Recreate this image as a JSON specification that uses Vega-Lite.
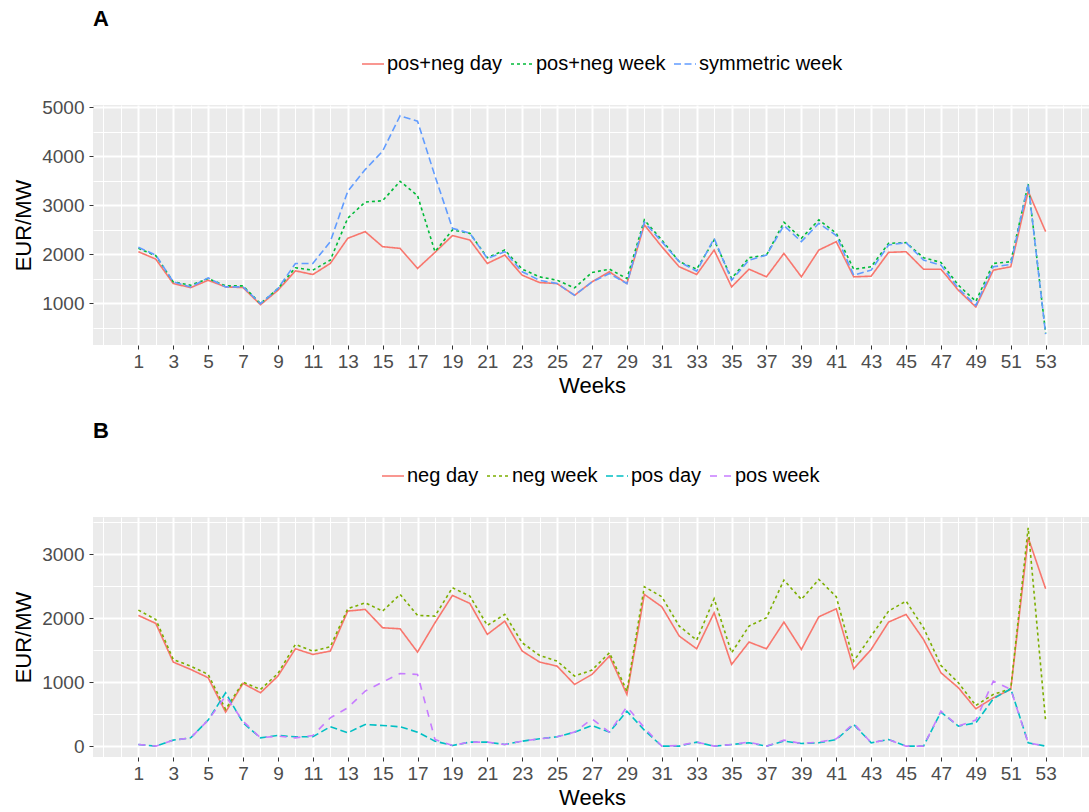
{
  "$schema": "https://vega.github.io/schema/vega-lite/v6.json",
  "padding": {"left": 12, "top": 8, "right": 0, "bottom": 0},
  "background": "white",
  "spacing": 24,
  "config": {
    "font": "Liberation Sans",
    "view": {"fill": "#EBEBEB", "stroke": null},
    "axis": {"domain": false, "tickColor": "#333333", "tickSize": 4, "tickWidth": 1, "labelColor": "#4D4D4D", "labelFontSize": 19, "labelFont": "Liberation Sans", "titleFont": "Liberation Sans", "titleFontSize": 22, "titleFontWeight": "normal", "titleColor": "black", "gridColor": "white", "labelOverlap": false, "labelFlush": false},
    "title": {"anchor": "start", "frame": "group", "fontSize": 22, "fontWeight": "bold", "font": "Liberation Sans", "color": "black", "offset": 21},
    "legend": {"orient": "none", "direction": "horizontal", "title": null, "symbolType": "stroke", "symbolSize": 484, "symbolStrokeWidth": 1.6, "labelFontSize": 20, "labelFont": "Liberation Sans", "labelColor": "black", "labelOffset": 2, "columnPadding": 4}
  },
  "resolve": {"scale": {"x": "independent", "y": "independent", "color": "independent", "strokeDash": "independent"}},
  "datasets": {
    "A": [
      {"week":1,"pos+neg day":2055,"pos+neg week":2123,"symmetric week":2144},
      {"week":2,"pos+neg day":1903,"pos+neg week":1973,"symmetric week":1986},
      {"week":3,"pos+neg day":1404,"pos+neg week":1439,"symmetric week":1439},
      {"week":4,"pos+neg day":1322,"pos+neg week":1370,"symmetric week":1336},
      {"week":5,"pos+neg day":1472,"pos+neg week":1507,"symmetric week":1521},
      {"week":6,"pos+neg day":1336,"pos+neg week":1357,"symmetric week":1336},
      {"week":7,"pos+neg day":1322,"pos+neg week":1357,"symmetric week":1336},
      {"week":8,"pos+neg day":973,"pos+neg week":994,"symmetric week":994},
      {"week":9,"pos+neg day":1267,"pos+neg week":1302,"symmetric week":1302},
      {"week":10,"pos+neg day":1665,"pos+neg week":1727,"symmetric week":1815},
      {"week":11,"pos+neg day":1589,"pos+neg week":1678,"symmetric week":1815},
      {"week":12,"pos+neg day":1815,"pos+neg week":1883,"symmetric week":2260},
      {"week":13,"pos+neg day":2328,"pos+neg week":2739,"symmetric week":3287},
      {"week":14,"pos+neg day":2465,"pos+neg week":3068,"symmetric week":3731},
      {"week":15,"pos+neg day":2157,"pos+neg week":3095,"symmetric week":4108},
      {"week":16,"pos+neg day":2123,"pos+neg week":3493,"symmetric week":4830},
      {"week":17,"pos+neg day":1712,"pos+neg week":3200,"symmetric week":4720},
      {"week":18,"pos+neg day":2041,"pos+neg week":2055,"symmetric week":3600},
      {"week":19,"pos+neg day":2383,"pos+neg week":2499,"symmetric week":2534},
      {"week":20,"pos+neg day":2294,"pos+neg week":2431,"symmetric week":2431},
      {"week":21,"pos+neg day":1815,"pos+neg week":1932,"symmetric week":1918},
      {"week":22,"pos+neg day":1986,"pos+neg week":2088,"symmetric week":2055},
      {"week":23,"pos+neg day":1575,"pos+neg week":1698,"symmetric week":1645},
      {"week":24,"pos+neg day":1425,"pos+neg week":1542,"symmetric week":1472},
      {"week":25,"pos+neg day":1404,"pos+neg week":1472,"symmetric week":1404},
      {"week":26,"pos+neg day":1165,"pos+neg week":1316,"symmetric week":1165},
      {"week":27,"pos+neg day":1439,"pos+neg week":1630,"symmetric week":1439},
      {"week":28,"pos+neg day":1645,"pos+neg week":1698,"symmetric week":1610},
      {"week":29,"pos+neg day":1404,"pos+neg week":1507,"symmetric week":1404},
      {"week":30,"pos+neg day":2602,"pos+neg week":2704,"symmetric week":2657},
      {"week":31,"pos+neg day":2157,"pos+neg week":2294,"symmetric week":2260},
      {"week":32,"pos+neg day":1747,"pos+neg week":1850,"symmetric week":1850},
      {"week":33,"pos+neg day":1589,"pos+neg week":1698,"symmetric week":1657},
      {"week":34,"pos+neg day":2088,"pos+neg week":2294,"symmetric week":2328},
      {"week":35,"pos+neg day":1336,"pos+neg week":1507,"symmetric week":1472},
      {"week":36,"pos+neg day":1698,"pos+neg week":1932,"symmetric week":1883},
      {"week":37,"pos+neg day":1542,"pos+neg week":1986,"symmetric week":1986},
      {"week":38,"pos+neg day":2020,"pos+neg week":2657,"symmetric week":2589},
      {"week":39,"pos+neg day":1542,"pos+neg week":2328,"symmetric week":2260},
      {"week":40,"pos+neg day":2088,"pos+neg week":2704,"symmetric week":2636},
      {"week":41,"pos+neg day":2260,"pos+neg week":2431,"symmetric week":2383},
      {"week":42,"pos+neg day":1542,"pos+neg week":1698,"symmetric week":1575},
      {"week":43,"pos+neg day":1555,"pos+neg week":1747,"symmetric week":1678},
      {"week":44,"pos+neg day":2041,"pos+neg week":2226,"symmetric week":2191},
      {"week":45,"pos+neg day":2055,"pos+neg week":2240,"symmetric week":2240},
      {"week":46,"pos+neg day":1698,"pos+neg week":1932,"symmetric week":1883},
      {"week":47,"pos+neg day":1698,"pos+neg week":1836,"symmetric week":1781},
      {"week":48,"pos+neg day":1267,"pos+neg week":1370,"symmetric week":1302},
      {"week":49,"pos+neg day":926,"pos+neg week":1041,"symmetric week":959},
      {"week":50,"pos+neg day":1678,"pos+neg week":1815,"symmetric week":1747},
      {"week":51,"pos+neg day":1747,"pos+neg week":1850,"symmetric week":1795},
      {"week":52,"pos+neg day":3287,"pos+neg week":3437,"symmetric week":3437},
      {"week":53,"pos+neg day":2465,"pos+neg week":390,"symmetric week":372}
    ],
    "B": [
      {"week":1,"neg day":2045,"neg week":2128,"pos day":26,"pos week":26},
      {"week":2,"neg day":1920,"neg week":1982,"pos day":0,"pos week":0},
      {"week":3,"neg day":1315,"neg week":1356,"pos day":94,"pos week":94},
      {"week":4,"neg day":1200,"neg week":1252,"pos day":130,"pos week":130},
      {"week":5,"neg day":1070,"neg week":1122,"pos day":407,"pos week":407},
      {"week":6,"neg day":532,"neg week":574,"pos day":835,"pos week":783},
      {"week":7,"neg day":981,"neg week":1002,"pos day":365,"pos week":391},
      {"week":8,"neg day":835,"neg week":887,"pos day":130,"pos week":130},
      {"week":9,"neg day":1096,"neg week":1137,"pos day":167,"pos week":157},
      {"week":10,"neg day":1523,"neg week":1591,"pos day":146,"pos week":130},
      {"week":11,"neg day":1435,"neg week":1487,"pos day":146,"pos week":167},
      {"week":12,"neg day":1487,"neg week":1555,"pos day":303,"pos week":443},
      {"week":13,"neg day":2113,"neg week":2149,"pos day":209,"pos week":600},
      {"week":14,"neg day":2139,"neg week":2243,"pos day":339,"pos week":861},
      {"week":15,"neg day":1852,"neg week":2113,"pos day":323,"pos week":1002},
      {"week":16,"neg day":1836,"neg week":2374,"pos day":303,"pos week":1137},
      {"week":17,"neg day":1471,"neg week":2045,"pos day":219,"pos week":1122},
      {"week":18,"neg day":1930,"neg week":2035,"pos day":78,"pos week":104},
      {"week":19,"neg day":2358,"neg week":2478,"pos day":10,"pos week":10},
      {"week":20,"neg day":2233,"neg week":2348,"pos day":63,"pos week":63},
      {"week":21,"neg day":1748,"neg week":1889,"pos day":63,"pos week":63},
      {"week":22,"neg day":1956,"neg week":2061,"pos day":26,"pos week":26},
      {"week":23,"neg day":1487,"neg week":1617,"pos day":78,"pos week":78},
      {"week":24,"neg day":1315,"neg week":1419,"pos day":115,"pos week":115},
      {"week":25,"neg day":1252,"neg week":1330,"pos day":146,"pos week":146},
      {"week":26,"neg day":965,"neg week":1096,"pos day":219,"pos week":219},
      {"week":27,"neg day":1122,"neg week":1190,"pos day":323,"pos week":428},
      {"week":28,"neg day":1409,"neg week":1461,"pos day":219,"pos week":219},
      {"week":29,"neg day":809,"neg week":861,"pos day":548,"pos week":616},
      {"week":30,"neg day":2374,"neg week":2494,"pos day":250,"pos week":287},
      {"week":31,"neg day":2181,"neg week":2337,"pos day":0,"pos week":0},
      {"week":32,"neg day":1722,"neg week":1878,"pos day":0,"pos week":10},
      {"week":33,"neg day":1523,"neg week":1659,"pos day":63,"pos week":63},
      {"week":34,"neg day":2087,"neg week":2306,"pos day":0,"pos week":0},
      {"week":35,"neg day":1278,"neg week":1461,"pos day":26,"pos week":26},
      {"week":36,"neg day":1628,"neg week":1878,"pos day":52,"pos week":63},
      {"week":37,"neg day":1523,"neg week":2009,"pos day":0,"pos week":0},
      {"week":38,"neg day":1941,"neg week":2598,"pos day":78,"pos week":94},
      {"week":39,"neg day":1513,"neg week":2295,"pos day":42,"pos week":42},
      {"week":40,"neg day":2024,"neg week":2609,"pos day":52,"pos week":63},
      {"week":41,"neg day":2149,"neg week":2337,"pos day":104,"pos week":115},
      {"week":42,"neg day":1210,"neg week":1330,"pos day":339,"pos week":355},
      {"week":43,"neg day":1513,"neg week":1722,"pos day":52,"pos week":52},
      {"week":44,"neg day":1941,"neg week":2113,"pos day":104,"pos week":104},
      {"week":45,"neg day":2061,"neg week":2269,"pos day":0,"pos week":0},
      {"week":46,"neg day":1669,"neg week":1852,"pos day":0,"pos week":0},
      {"week":47,"neg day":1148,"neg week":1262,"pos day":532,"pos week":548},
      {"week":48,"neg day":913,"neg week":991,"pos day":313,"pos week":313},
      {"week":49,"neg day":584,"neg week":636,"pos day":365,"pos week":407},
      {"week":50,"neg day":756,"neg week":809,"pos day":741,"pos week":1017},
      {"week":51,"neg day":887,"neg week":897,"pos day":897,"pos week":887},
      {"week":52,"neg day":3261,"neg week":3417,"pos day":52,"pos week":52},
      {"week":53,"neg day":2462,"neg week":391,"pos day":0,"pos week":0}
    ]
  },
  "vconcat": [
    {
      "title": {"text": "A"},
      "width": 998,
      "height": 240,
      "data": {"name": "A"},
      "transform": [{"fold": ["pos+neg day", "pos+neg week", "symmetric week"], "as": ["series", "value"]}],
      "mark": {"type": "line", "strokeWidth": 1.6},
      "encoding": {
        "x": {"field": "week", "type": "quantitative", "scale": {"domain": [-1.6, 55.6], "nice": false, "zero": false},
          "axis": {"title": "Weeks", "format": "d", "values": [-1,0,1,2,3,4,5,6,7,8,9,10,11,12,13,14,15,16,17,18,19,20,21,22,23,24,25,26,27,28,29,30,31,32,33,34,35,36,37,38,39,40,41,42,43,44,45,46,47,48,49,50,51,52,53,54,55],
            "labelExpr": "(datum.value % 2 === 1 && datum.value <= 53) ? datum.label : ''",
            "gridWidth": {"condition": {"test": "datum.value % 2 === 1 && datum.value <= 53", "value": 2}, "value": 1},
            "tickOpacity": {"condition": {"test": "datum.value % 2 === 1 && datum.value <= 53", "value": 1}, "value": 0},
            "labelPadding": 3, "titlePadding": 4}},
        "y": {"field": "value", "type": "quantitative", "scale": {"domain": [150, 5050], "nice": false, "zero": false},
          "axis": {"title": "EUR/MW", "format": "d", "values": [500,1000,1500,2000,2500,3000,3500,4000,4500,5000],
            "labelExpr": "datum.value % 1000 === 0 ? datum.label : ''",
            "gridWidth": {"condition": {"test": "datum.value % 1000 === 0", "value": 2}, "value": 1},
            "tickOpacity": {"condition": {"test": "datum.value % 1000 === 0", "value": 1}, "value": 0},
            "labelPadding": 5, "titlePadding": 6}},
        "color": {"field": "series", "type": "nominal", "scale": {"domain": ["pos+neg day", "pos+neg week", "symmetric week"], "range": ["#F8766D", "#00BA38", "#619CFF"]},
          "legend": {"legendX": 268, "legendY": -53, "columns": 3}},
        "strokeDash": {"field": "series", "type": "nominal", "scale": {"domain": ["pos+neg day", "pos+neg week", "symmetric week"], "range": [[1, 0], [3, 3], [7, 3.5]]}}
      }
    },
    {
      "title": {"text": "B"},
      "width": 998,
      "height": 240,
      "data": {"name": "B"},
      "transform": [{"fold": ["neg day", "neg week", "pos day", "pos week"], "as": ["series", "value"]}],
      "mark": {"type": "line", "strokeWidth": 1.6},
      "encoding": {
        "x": {"field": "week", "type": "quantitative", "scale": {"domain": [-1.6, 55.6], "nice": false, "zero": false},
          "axis": {"title": "Weeks", "format": "d", "values": [-1,0,1,2,3,4,5,6,7,8,9,10,11,12,13,14,15,16,17,18,19,20,21,22,23,24,25,26,27,28,29,30,31,32,33,34,35,36,37,38,39,40,41,42,43,44,45,46,47,48,49,50,51,52,53,54,55],
            "labelExpr": "(datum.value % 2 === 1 && datum.value <= 53) ? datum.label : ''",
            "gridWidth": {"condition": {"test": "datum.value % 2 === 1 && datum.value <= 53", "value": 2}, "value": 1},
            "tickOpacity": {"condition": {"test": "datum.value % 2 === 1 && datum.value <= 53", "value": 1}, "value": 0},
            "labelPadding": 3, "titlePadding": 4}},
        "y": {"field": "value", "type": "quantitative", "scale": {"domain": [-170, 3585], "nice": false, "zero": false},
          "axis": {"title": "EUR/MW", "format": "d", "values": [0,500,1000,1500,2000,2500,3000,3500],
            "labelExpr": "datum.value % 1000 === 0 ? datum.label : ''",
            "gridWidth": {"condition": {"test": "datum.value % 1000 === 0", "value": 2}, "value": 1},
            "tickOpacity": {"condition": {"test": "datum.value % 1000 === 0", "value": 1}, "value": 0},
            "labelPadding": 5, "titlePadding": 6}},
        "color": {"field": "series", "type": "nominal", "scale": {"domain": ["neg day", "neg week", "pos day", "pos week"], "range": ["#F8766D", "#7CAE00", "#00BFC4", "#C77CFF"]},
          "legend": {"legendX": 288, "legendY": -53, "columns": 4}},
        "strokeDash": {"field": "series", "type": "nominal", "scale": {"domain": ["neg day", "neg week", "pos day", "pos week"], "range": [[1, 0], [3, 3], [7, 3.5], [7, 7]]}}
      }
    }
  ]
}
